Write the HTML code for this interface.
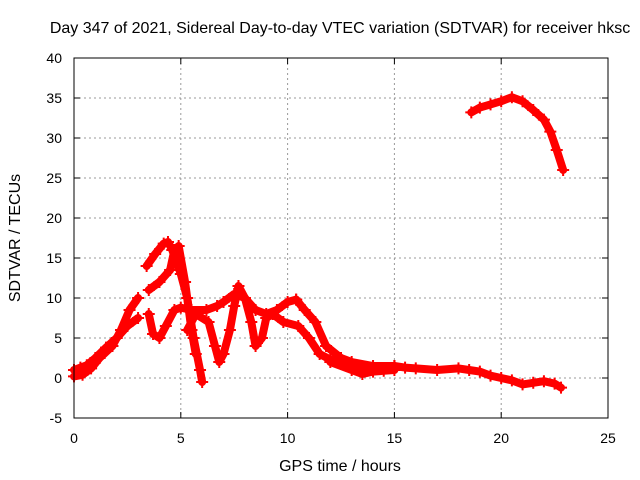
<!DOCTYPE html>
<html><head><meta charset="utf-8"><style>
body{margin:0;background:#fff;}
svg{display:block;font-family:"Liberation Sans",sans-serif;font-size:14px;}
</style></head><body>
<svg id="chart" width="640" height="480">
<text x="340" y="33" text-anchor="middle" font-size="16">Day 347 of 2021, Sidereal Day-to-day VTEC variation (SDTVAR) for receiver hksc</text>
<text x="340" y="471" text-anchor="middle" font-size="16">GPS time / hours</text>
<text transform="translate(20,238) rotate(-90)" text-anchor="middle" font-size="16">SDTVAR / TECUs</text>
<g id="grid"></g><g id="marks"></g>
<rect x="74" y="58" width="534" height="360" fill="none" stroke="#000"/>
</svg>
<script>
const xTicks=[0,5,10,15,20,25];
const yTicks=[-5,0,5,10,15,20,25,30,35,40];
const seriesA_t=[0,0.3,0.6,1,1.5,2,2.5,3];
const seriesA_v=[1,1.3,1.6,2.5,3.8,5,6.5,7.5];
const seriesB_t=[0,0.4,0.8,1.2,1.8,2.2,2.6,3];
const seriesB_v=[0.2,0.4,1.2,2.5,4,6,8.5,10];
const seriesC_t=[3.5,3.7,4,4.3,4.7,5,5.5,6.2,6.7,7,7.5,8,8.5,9,9.5,10,10.4];
const seriesC_v=[8,5.5,5,6.5,8.5,8.8,8.5,8.5,9,9.5,10.5,10,8.5,8,8.5,9.5,9.8];
const seriesD_t=[3.4,3.8,4.2,4.4,4.6,5,5.3,5.6,5.9,6];
const seriesD_v=[14,15.5,16.8,17,16,13,10,5,1,-0.5];
const seriesE_t=[3.5,4,4.5,4.7,4.9,5.2,5.5,5.7];
const seriesE_v=[11,12,13.5,16,16.5,12,6,3];
const seriesF_t=[5.3,5.7,6.3,6.6,6.8,7,7.3,7.5,7.7,8,8.3,8.5,8.8,9,9.3,9.8,10.5,11,11.5,12,13,14,15];
const seriesF_v=[6,8,7,4,2,3,6,9,11.5,10,7,4,5,7.5,8,7,6.5,5,3,2.3,1.5,1.2,1.5];
const seriesG_t=[10.4,10.8,11.3,11.8,12.5,13,14,15,15.5,16,17,18,18.5,19,19.5,20,20.5,21,21.5,22,22.5,22.8];
const seriesG_v=[9.8,8.5,7,4,2.5,2,1.5,1.5,1.3,1.2,1,1.2,1,0.8,0.3,0,-0.3,-0.8,-0.6,-0.4,-0.7,-1.2];
const seriesH_t=[12,13,13.5,14,14.5,15];
const seriesH_v=[2,1,0.5,0.8,0.9,1];
const seriesI_t=[18.6,19,19.5,20,20.5,21,21.5,22,22.3,22.6,22.9];
const seriesI_v=[33.2,33.8,34.2,34.6,35.1,34.6,33.5,32.3,30.8,28.5,26];
const allSeries=[[seriesA_t,seriesA_v],[seriesB_t,seriesB_v],[seriesC_t,seriesC_v],[seriesD_t,seriesD_v],[seriesE_t,seriesE_v],[seriesF_t,seriesF_v],[seriesG_t,seriesG_v],[seriesH_t,seriesH_v],[seriesI_t,seriesI_v]];
const X=t=>74+t*534/25, Y=v=>378-v*8;
const NS="http://www.w3.org/2000/svg";
const grid=document.getElementById('grid'), marks=document.getElementById('marks');
function mk(tag,attrs,parent){const e=document.createElementNS(NS,tag);for(const k in attrs)e.setAttribute(k,attrs[k]);parent.appendChild(e);return e;}
xTicks.forEach(t=>{
  const x=X(t);
  if(t>0&&t<25){const l=mk('line',{x1:x,x2:x,y1:58,y2:418,stroke:'#999','stroke-dasharray':'2,3'},grid);
  
  }
  mk('line',{x1:x,x2:x,y1:418,y2:412,stroke:'#000'},grid);
  mk('line',{x1:x,x2:x,y1:58,y2:64,stroke:'#000'},grid);
  const tx=mk('text',{x:x,y:443,'text-anchor':'middle'},grid);tx.textContent=t;
  
  
});
yTicks.forEach(v=>{
  const y=Y(v);
  if(v>-5&&v<40){const l=mk('line',{x1:74,x2:608,y1:y,y2:y,stroke:'#999','stroke-dasharray':'2,3'},grid);
  
  }
  mk('line',{x1:74,x2:80,y1:y,y2:y,stroke:'#000'},grid);
  mk('line',{x1:602,x2:608,y1:y,y2:y,stroke:'#000'},grid);
  const tx=mk('text',{x:62,y:y+5,'text-anchor':'end'},grid);tx.textContent=v;
  
  
});
allSeries.forEach(([ts,vs])=>{
  const pts=ts.map((t,i)=>X(t)+','+Y(vs[i])).join(' ');
  const pl=mk('polyline',{points:pts,fill:'none',stroke:'#f00','stroke-width':8,'stroke-linejoin':'round','stroke-linecap':'round'},marks);
  
  
  ts.forEach((t,i)=>{
    const x=X(t),y=Y(vs[i]);
    const p=mk('path',{d:`M${x-6},${y}h12M${x},${y-6}v12`,stroke:'#f00','stroke-width':2},marks);
    
    
  });
});
</script>
</body></html>
